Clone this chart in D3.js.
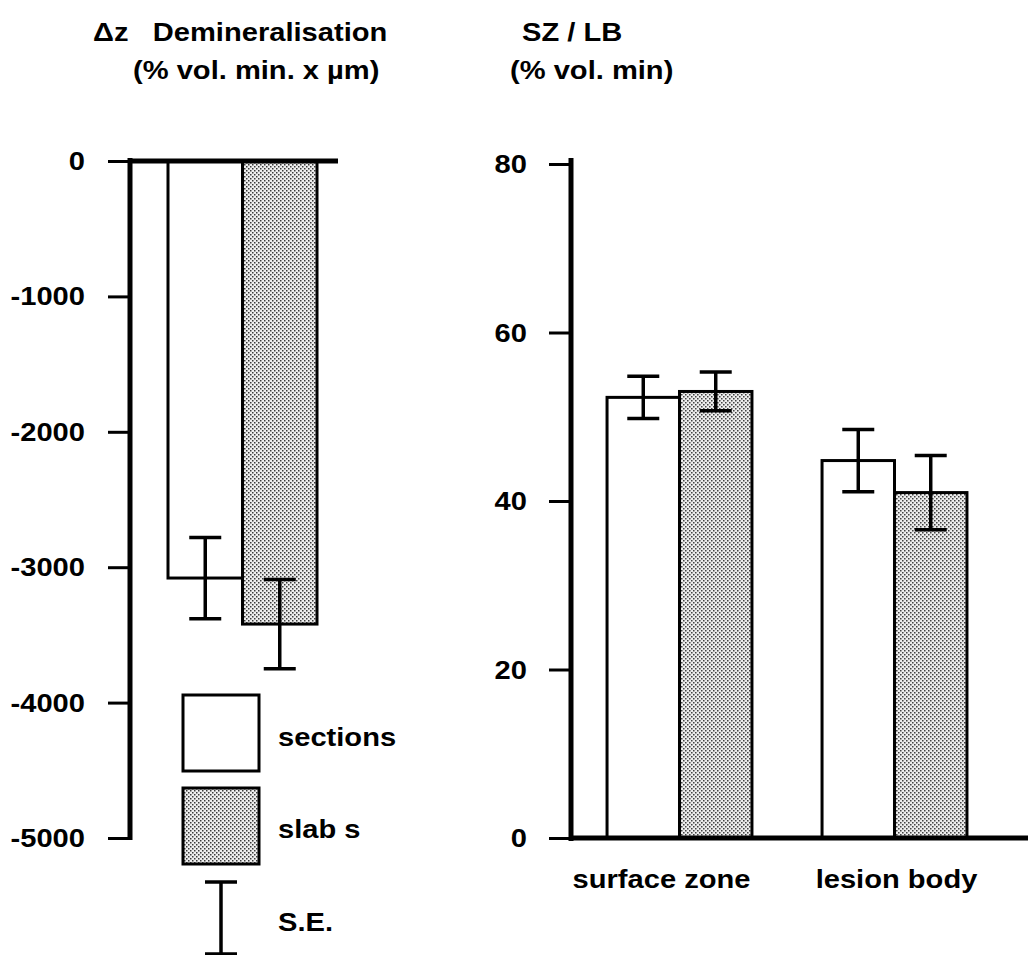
<!DOCTYPE html>
<html>
<head>
<meta charset="utf-8">
<script src="https://cdn.jsdelivr.net/npm/d3@7"></script>
<style>
  body { margin: 0; background: #fff; }
  svg text { font-family: "Liberation Sans", Arial, Helvetica, sans-serif; font-weight: bold; font-size: 26px; fill: #000; }
</style>
</head>
<body>
<script>
// left panel: demineralisation
var seriesNames = ["sections", "slabs"];
var demin = [-3080, -3420];
var deminSE = [300, 330];
var deminTicks = [0, -1000, -2000, -3000, -4000, -5000];

// right panel: SZ / LB
var categories = ["surface zone", "lesion body"];
var szlbSections = [52.3, 44.8];
var szlbSlabs = [53.0, 41.0];
var szlbSectionsSE = [2.5, 3.7];
var szlbSlabsSE = [2.3, 4.4];
var szlbTicks = [0, 20, 40, 60, 80];

var legendLabels = ["sections", "slab s", "S.E."];

var W = 1028, H = 955;
var sx = 1.12; // scan is wider than normal helvetica
var catLabelNudge = [-18, 2]; // labels in the scan are not centred under groups

var svg = d3.select("body").append("svg")
  .attr("width", W).attr("height", H);

// stipple fill
var defs = svg.append("defs");
var pat = defs.append("pattern").attr("id", "dots")
  .attr("width", 4).attr("height", 4)
  .attr("patternUnits", "userSpaceOnUse");
pat.append("rect").attr("width", 4).attr("height", 4).attr("fill", "#eeeeee");
pat.append("rect").attr("x", 0).attr("y", 0).attr("width", 1.5).attr("height", 1.5).attr("fill", "#3a3a3a");
pat.append("rect").attr("x", 2).attr("y", 2).attr("width", 1.5).attr("height", 1.5).attr("fill", "#3a3a3a");

function txt(g, x, y, s, anchor) {
  return g.append("text")
    .attr("transform", "translate(" + x + "," + y + ") scale(" + sx + ",1)")
    .attr("text-anchor", anchor || "start")
    .text(s);
}

var fills = ["#fff", "url(#dots)"];

// ---------- left panel ----------
var yL = d3.scaleLinear().domain([-5000, 0]).range([838, 161]);
var xL = d3.scaleBand().domain(seriesNames).range([168, 317]);

var left = svg.append("g");

left.selectAll("rect.bar")
  .data(demin)
  .enter().append("rect")
  .attr("class", "bar")
  .attr("x", function(d, i){ return xL(seriesNames[i]); })
  .attr("y", yL(0))
  .attr("width", xL.bandwidth())
  .attr("height", function(d){ return yL(d) - yL(0); })
  .attr("fill", function(d, i){ return fills[i]; })
  .attr("stroke", "#000").attr("stroke-width", 3);

var errL = left.selectAll("g.err").data(demin).enter().append("g").attr("class", "err");
errL.each(function(d, i){
  var g = d3.select(this);
  var cx = xL(seriesNames[i]) + xL.bandwidth() / 2;
  var y1 = yL(d + deminSE[i]), y2 = yL(d - deminSE[i]);
  g.append("line").attr("x1", cx).attr("x2", cx).attr("y1", y1).attr("y2", y2);
  g.append("line").attr("x1", cx - 16).attr("x2", cx + 16).attr("y1", y1).attr("y2", y1);
  g.append("line").attr("x1", cx - 16).attr("x2", cx + 16).attr("y1", y2).attr("y2", y2);
});
errL.selectAll("line").attr("stroke", "#000").attr("stroke-width", 3.5);

var axL = left.append("g").attr("transform", "translate(130,0)")
  .call(d3.axisLeft(yL).tickValues(deminTicks).tickSize(22).tickFormat(""));
axL.select(".domain").remove();
axL.selectAll(".tick line").attr("stroke", "#000").attr("stroke-width", 3);
deminTicks.forEach(function(t){ txt(left, 85, yL(t) + 9, String(t), "end"); });

left.append("line").attr("x1", 130).attr("x2", 130).attr("y1", 158).attr("y2", 840)
  .attr("stroke", "#000").attr("stroke-width", 5);
left.append("line").attr("x1", 128).attr("x2", 338).attr("y1", yL(0)).attr("y2", yL(0))
  .attr("stroke", "#000").attr("stroke-width", 5);

txt(svg, 93, 41, "\u0394z\u00a0\u00a0 Demineralisation");
txt(svg, 133, 79, "(% vol. min. x \u00b5m)");

// legend
var leg = svg.append("g");
[695, 788].forEach(function(y, i){
  leg.append("rect").attr("x", 183).attr("y", y).attr("width", 76).attr("height", 76)
    .attr("fill", fills[i]).attr("stroke", "#000").attr("stroke-width", 3);
});
leg.append("line").attr("x1", 221).attr("x2", 221).attr("y1", 882).attr("y2", 954);
leg.append("line").attr("x1", 205).attr("x2", 237).attr("y1", 882).attr("y2", 882);
leg.append("line").attr("x1", 205).attr("x2", 237).attr("y1", 954).attr("y2", 954);
leg.selectAll("line").attr("stroke", "#000").attr("stroke-width", 3.5);
txt(leg, 278, 746, legendLabels[0]);
txt(leg, 278, 838, legendLabels[1]);
txt(leg, 278, 931, legendLabels[2]);

// ---------- right panel ----------
var yR = d3.scaleLinear().domain([0, 80]).range([838, 164]);
var x0 = d3.scaleBand().domain(categories).range([572, 1002]).paddingInner(0.326).paddingOuter(0.163);
var x1 = d3.scaleBand().domain(seriesNames).range([0, x0.bandwidth()]);

var rows = categories.map(function(c, i){
  return { cat: c, vals: [
    { s: "sections", v: szlbSections[i], se: szlbSectionsSE[i] },
    { s: "slabs", v: szlbSlabs[i], se: szlbSlabsSE[i] }
  ]};
});

var right = svg.append("g");
var grp = right.selectAll("g.grp").data(rows).enter().append("g")
  .attr("class", "grp")
  .attr("transform", function(d){ return "translate(" + x0(d.cat) + ",0)"; });

grp.selectAll("rect").data(function(d){ return d.vals; }).enter().append("rect")
  .attr("x", function(d){ return x1(d.s); })
  .attr("y", function(d){ return yR(d.v); })
  .attr("width", x1.bandwidth())
  .attr("height", function(d){ return yR(0) - yR(d.v); })
  .attr("fill", function(d, i){ return fills[i]; })
  .attr("stroke", "#000").attr("stroke-width", 3);

grp.selectAll("g.err").data(function(d){ return d.vals; }).enter().append("g")
  .attr("class", "err")
  .each(function(d){
    var g = d3.select(this);
    var cx = x1(d.s) + x1.bandwidth() / 2;
    var ya = yR(d.v + d.se), yb = yR(d.v - d.se);
    g.append("line").attr("x1", cx).attr("x2", cx).attr("y1", ya).attr("y2", yb);
    g.append("line").attr("x1", cx - 16).attr("x2", cx + 16).attr("y1", ya).attr("y2", ya);
    g.append("line").attr("x1", cx - 16).attr("x2", cx + 16).attr("y1", yb).attr("y2", yb);
  })
  .selectAll("line").attr("stroke", "#000").attr("stroke-width", 3.5);

var axR = right.append("g").attr("transform", "translate(571,0)")
  .call(d3.axisLeft(yR).tickValues(szlbTicks).tickSize(22).tickFormat(""));
axR.select(".domain").remove();
axR.selectAll(".tick line").attr("stroke", "#000").attr("stroke-width", 3);
szlbTicks.forEach(function(t){ txt(right, 527, yR(t) + 9, String(t), "end"); });

right.append("line").attr("x1", 571).attr("x2", 571).attr("y1", 158).attr("y2", 841)
  .attr("stroke", "#000").attr("stroke-width", 5);
right.append("line").attr("x1", 569).attr("x2", 1028).attr("y1", yR(0)).attr("y2", yR(0))
  .attr("stroke", "#000").attr("stroke-width", 5);

categories.forEach(function(c, i){
  txt(right, x0(c) + x0.bandwidth() / 2 + catLabelNudge[i], 888, c, "middle");
});

txt(svg, 522, 41, "SZ / LB");
txt(svg, 510, 79, "(% vol. min)");
</script>
</body>
</html>
